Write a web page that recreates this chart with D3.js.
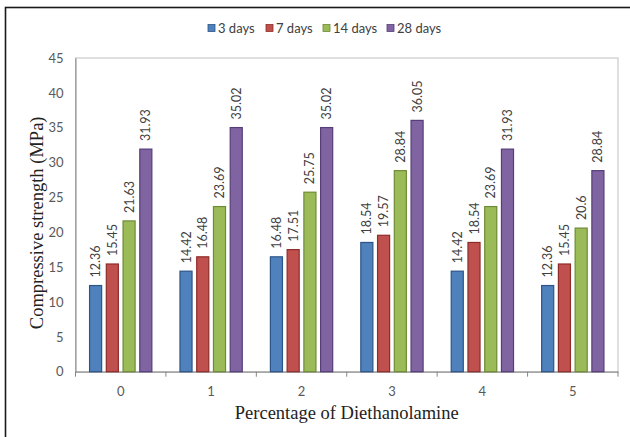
<!DOCTYPE html>
<html>
<head>
<meta charset="utf-8">
<script src="https://cdn.jsdelivr.net/npm/d3@7"></script>
<style>
  html, body { margin: 0; padding: 0; background: #fff; }
  svg { display: block; }
</style>
</head>
<body>
<svg id="chart" width="630" height="437"></svg>
<script>
// Compressive strength by DEA dosage and curing age
const categories = ["0", "1", "2", "3", "4", "5"];
const seriesNames = ["3 days", "7 days", "14 days", "28 days"];
const days3  = [12.36, 14.42, 16.48, 18.54, 14.42, 12.36];
const days7  = [15.45, 16.48, 17.51, 19.57, 18.54, 15.45];
const days14 = [21.63, 23.69, 25.75, 28.84, 23.69, 20.6];
const days28 = [31.93, 35.02, 35.02, 36.05, 31.93, 28.84];
const yTicks = [0, 5, 10, 15, 20, 25, 30, 35, 40, 45];

const seriesValues = [days3, days7, days14, days28];
const fills   = ["#4F81BD", "#C0504D", "#9BBB59", "#8064A2"];
const strokes = ["#2C5487", "#8E2C2A", "#6E8B35", "#553D78"];

const svg = d3.select("#chart");
const plot = { left: 75.5, right: 618, top: 58, bottom: 371.7 };

// outer frame
svg.append("rect")
  .attr("x", 5.5).attr("y", 7.5)
  .attr("width", 700).attr("height", 500)
  .attr("fill", "none").attr("stroke", "#1a1a1a").attr("stroke-width", 1.6);

const x0 = d3.scaleBand().domain(categories)
  .range([plot.left, plot.right]).paddingInner(0.3).paddingOuter(0.15);
const x1 = d3.scaleBand().domain(seriesNames)
  .range([0, x0.bandwidth()]).paddingInner(0.22);
const y = d3.scaleLinear().domain([0, 45]).range([plot.bottom, plot.top]);

// plot area border
svg.append("rect")
  .attr("x", plot.left).attr("y", plot.top)
  .attr("width", plot.right - plot.left).attr("height", plot.bottom - plot.top)
  .attr("fill", "none").attr("stroke", "#BFBFBF").attr("stroke-width", 1);

// y axis
const yAxis = svg.append("g")
  .attr("transform", `translate(${plot.left},0)`)
  .call(d3.axisLeft(y).tickValues(yTicks).tickSize(0).tickPadding(12));
yAxis.select(".domain").attr("stroke", "#868686");
yAxis.selectAll("text")
  .attr("fill", "#595959").style("font-family", "Lato, 'Liberation Sans', sans-serif")
  .style("font-size", "13px");

// x axis: labels at category centres, tick marks at category boundaries
const xAxis = svg.append("g")
  .attr("transform", `translate(0,${plot.bottom})`)
  .call(d3.axisBottom(x0).tickSize(0).tickPadding(15));
xAxis.select(".domain").attr("stroke", "#868686");
xAxis.selectAll("text")
  .attr("fill", "#595959").style("font-family", "Lato, 'Liberation Sans', sans-serif")
  .style("font-size", "13px");
const bounds = categories.map(c => x0(c) - x0.step() * x0.paddingInner() / 2)
  .concat([plot.right]);
svg.append("g").selectAll("line").data(bounds).join("line")
  .attr("x1", d => d).attr("x2", d => d)
  .attr("y1", plot.bottom).attr("y2", plot.bottom + 5)
  .attr("stroke", "#868686");

// bars
const groups = svg.append("g").selectAll("g").data(categories).join("g")
  .attr("transform", c => `translate(${x0(c)},0)`);

groups.each(function(c, ci) {
  const g = d3.select(this);
  seriesNames.forEach((s, si) => {
    const v = seriesValues[si][ci];
    g.append("rect")
      .attr("x", x1(s) + 0.5).attr("y", y(v))
      .attr("width", x1.bandwidth() - 1).attr("height", y(0) - y(v))
      .attr("fill", fills[si]).attr("stroke", strokes[si]).attr("stroke-width", 1.2);
    const cx = x1(s) + x1.bandwidth() / 2;
    g.append("text")
      .attr("transform", `translate(${cx + 4.5},${y(v) - 8}) rotate(-90)`)
      .attr("text-anchor", "start")
      .attr("fill", "#404040")
      .style("font-family", "Lato, 'Liberation Sans', sans-serif")
      .style("font-size", "12.5px")
      .text(v);
  });
});

// legend
const legendX = [208, 266, 323, 387];
const legend = svg.append("g").selectAll("g").data(seriesNames).join("g")
  .attr("transform", (d, i) => `translate(${legendX[i]},28)`);
legend.append("rect")
  .attr("x", 0).attr("y", -3.5).attr("width", 7).attr("height", 7)
  .attr("fill", (d, i) => fills[i]).attr("stroke", (d, i) => strokes[i]).attr("stroke-width", 0.8);
legend.append("text")
  .attr("x", 10).attr("y", 4.5)
  .attr("fill", "#404040")
  .style("font-family", "Lato, 'Liberation Sans', sans-serif")
  .style("font-size", "13px")
  .text(d => d);

// axis titles
svg.append("text")
  .attr("x", (plot.left + plot.right) / 2).attr("y", 419)
  .attr("text-anchor", "middle").attr("fill", "#222")
  .style("font-family", "'Liberation Serif', 'Times New Roman', serif")
  .style("font-size", "18.5px")
  .text("Percentage of Diethanolamine");

svg.append("text")
  .attr("transform", `translate(43,${(plot.top + plot.bottom) / 2 + 8}) rotate(-90)`)
  .attr("text-anchor", "middle").attr("fill", "#222")
  .style("font-family", "'Liberation Serif', 'Times New Roman', serif")
  .style("font-size", "18.5px")
  .text("Compressive strength (MPa)");
</script>
</body>
</html>
